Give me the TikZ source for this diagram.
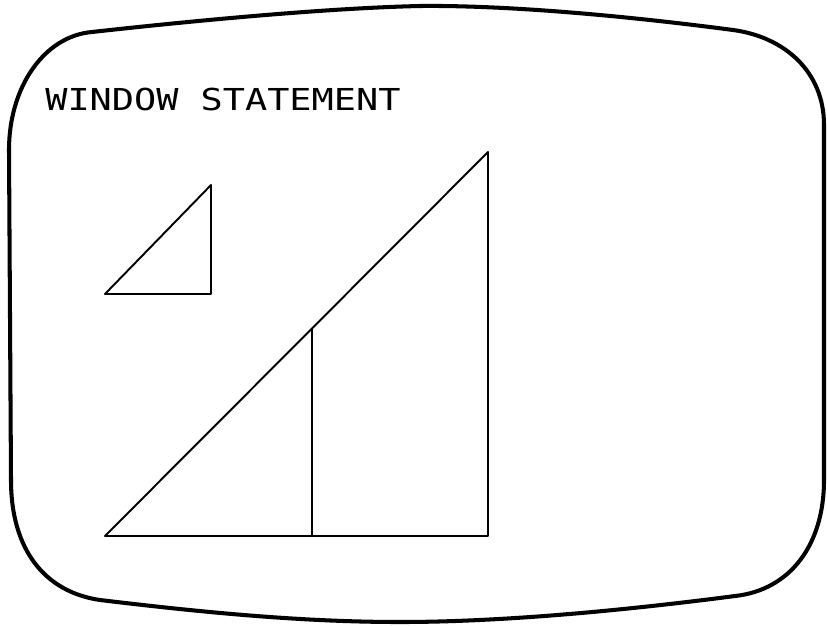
\documentclass[tikz,border=0pt]{standalone}
\usepackage{fontspec}
\newfontfamily\plotfont{DejaVu Sans Mono}
\usepackage{tikz}
\usetikzlibrary{calc}

\tikzset{
  screen/.style={line width=2.3pt, line join=round},
  figline/.style={line width=1.1pt, line join=round},
}

\begin{document}
\begin{tikzpicture}[x=0.02cm, y=-0.02cm]
    \useasboundingbox (0,0) rectangle (827,625);
    % screen outline
    \draw[screen] (9,150) .. controls (9,86) and (45,36) .. (92,32)
      .. controls (200,20) and (330,8) .. (420,6)
      .. controls (520,5) and (650,19) .. (733,30)
      .. controls (785,37) and (824,72) .. (824,125)
      -- (824,480)
      .. controls (824,545) and (790,590) .. (735,596)
      .. controls (620,611) and (500,622) .. (400,622)
      .. controls (300,622) and (200,612) .. (100,600)
      .. controls (45,592) and (11,550) .. (11,480) -- cycle;
    \node[anchor=west, inner sep=0pt, font=\plotfont\fontsize{17.2}{20}\selectfont] (title)
      at (45,99) {\scalebox{1.22}[1]{WINDOW STATEMENT}};
    % small triangle
    \coordinate (sa) at (105,294);
    \coordinate (sb) at (211,294);
    \coordinate (sc) at (211,185);
    \draw[figline] (sa) -- (sb) -- (sc) -- cycle;
    % big triangle
    \coordinate (ba) at (105,536);
    \coordinate (bb) at (488,536);
    \coordinate (bc) at (488,152);
    \draw[figline] (ba) -- (bb) -- (bc) -- cycle;
    \coordinate (mb) at (312,536);
    \draw[figline] (mb) -- (intersection of mb--{$(mb)+(0,-10)$} and ba--bc);
\end{tikzpicture}
\end{document}
